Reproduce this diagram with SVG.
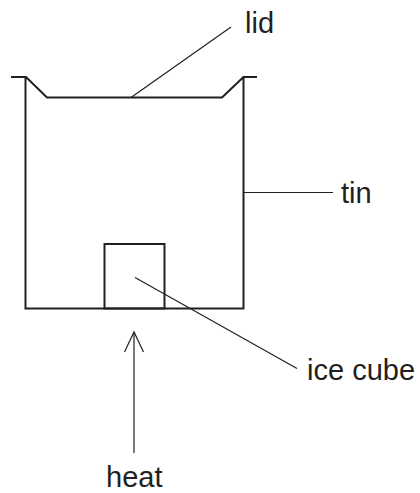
<svg xmlns="http://www.w3.org/2000/svg" width="420" height="493" viewBox="0 0 420 493">
<style>
.shape{fill:none;stroke:#231f20;stroke-width:2;stroke-linejoin:miter}
.lead{fill:none;stroke:#231f20;stroke-width:1.2}
.lbl{font-family:"Liberation Sans",Arial,sans-serif;font-size:29px;fill:#231f20}
</style>
<rect width="420" height="493" fill="#ffffff"/>
<g id="tin">
<path class="shape" d="M11,77 H26 L47,97.5 H222 L243.5,77 H257 M25.5,77 V308.5 H243.5 V77"/>
</g>
<g id="ice-cube">
<rect class="shape" x="104.5" y="244" width="60" height="64.5"/>
</g>
<g id="connectors">
<line class="lead" x1="131" y1="97.5" x2="231" y2="27"/>
<line class="lead" x1="243.5" y1="192.5" x2="333" y2="192.5"/>
<line class="lead" x1="135" y1="277.5" x2="297" y2="368.5"/>
<line class="lead" x1="134" y1="453" x2="134" y2="332" stroke-width="1.5"/>
<polyline class="lead" points="124.5,352 134,332 143.5,352" stroke-width="1.5"/>
</g>
<g id="labels">
<text class="lbl" x="245" y="33">lid</text>
<text class="lbl" x="341" y="203">tin</text>
<text class="lbl" x="307" y="380">ice cube</text>
<text class="lbl" x="106" y="487">heat</text>
</g>
</svg>
